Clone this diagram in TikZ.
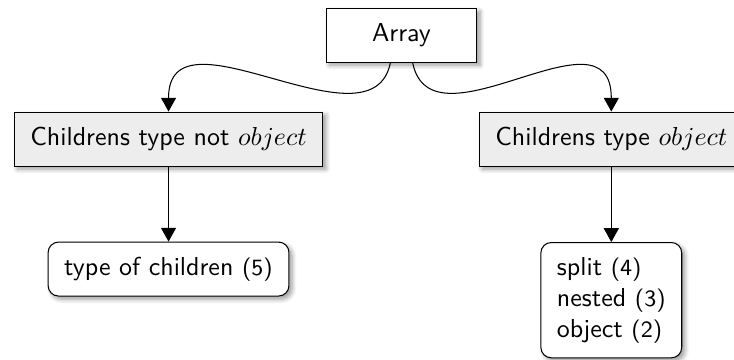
\documentclass[tikz,border=0pt]{standalone}
\usepackage{tikz}
\usetikzlibrary{arrows.meta,shadows.blur}

\begin{document}
\begin{tikzpicture}[font=\sffamily,>={Triangle[length=5.3pt,width=5.8pt]}]
  \tikzset{base box/.style={draw,thin,inner xsep=6.2pt,inner ysep=5pt,blur shadow={shadow xshift=1.2pt,shadow yshift=-1.2pt,shadow blur steps=6,shadow opacity=40},fill=#1},
           root box/.style={base box=white,minimum width=2.04cm,minimum height=0.73cm},
           kind box/.style={base box=black!7,minimum height=0.73cm},
           leaf box/.style={base box=white,rounded corners=4pt,align=left}}

  \useasboundingbox (0,0) rectangle (9.93,-4.857);

  \node [root box] (array) at (5.432,-0.474) {Array};
  \node [kind box] (notobj) at (2.280,-1.881) {Childrens type not $object$};
  \node [kind box] (obj) at (8.270,-1.881) {Childrens type $object$};
  \node [leaf box,minimum height=0.73cm] (typeof) at (2.280,-3.640) {type of children {\small(5)}};
  \node [leaf box,inner ysep=5.6pt,anchor=north] (kinds) at (8.270,-3.274) {split {\small(4)}\\nested {\small(3)}\\object {\small(2)}};

  \draw [->] ([xshift=-0.15cm]array.south) .. controls +(-0.25,-1.25) and +(0,1.5) .. (notobj.north);
  \draw [->] ([xshift=0.15cm]array.south) .. controls +(0.25,-1.25) and +(0,1.5) .. (obj.north);
  \draw [->] (notobj) -- (typeof);
  \draw [->] (obj) -- (kinds);
\end{tikzpicture}
\end{document}
